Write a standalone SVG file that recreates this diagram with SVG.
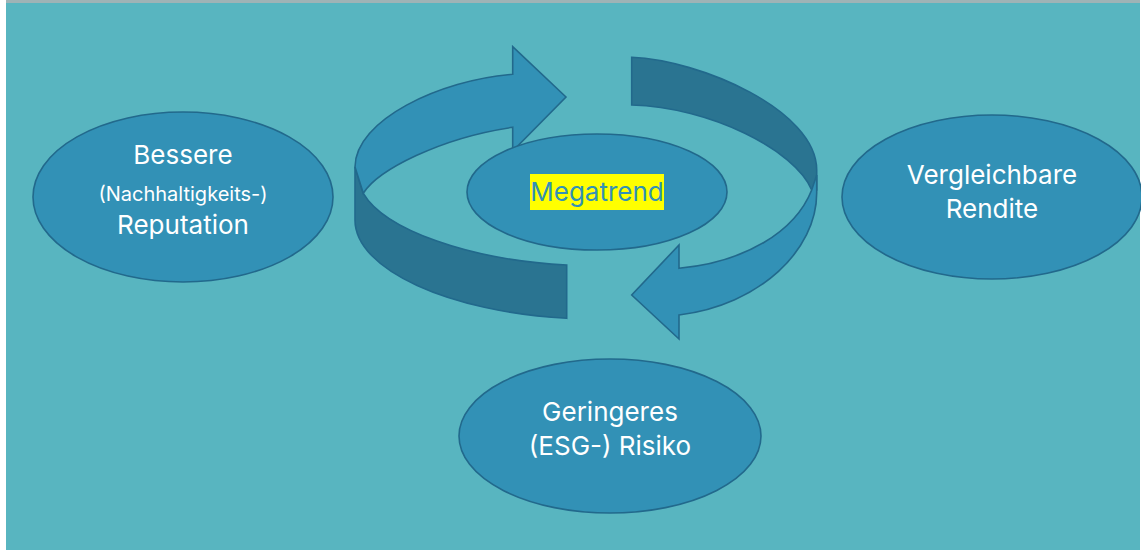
<svg xmlns="http://www.w3.org/2000/svg" width="1141" height="550" viewBox="0 0 1141 550">
<style>
.node{fill:#3291b6;stroke:#22698c;stroke-width:1.6}
.light{fill:#3291b6;stroke:#22698c;stroke-width:1.6;stroke-linejoin:miter}
.dark{fill:#2a7491;stroke:#22698c;stroke-width:1.6;stroke-linejoin:miter}
.lbl{font-family:Inter,"Liberation Sans",sans-serif;fill:#ffffff;text-anchor:middle}
</style>
<rect x="0" y="0" width="1141" height="550" fill="#ffffff"/>
<rect x="6" y="0" width="1134" height="3" fill="#9fb3b6"/>
<rect x="6" y="3" width="1134" height="547" fill="#58b5c0"/>
<g id="connectors">
<path class="dark" d="M355,167 L355,220 C355,270 450,312 566.7,318.3 L566.7,265 C470,260 385,230 363.3,193.3 Z"/>
<path class="dark" d="M631.7,57.3 C700,60 816.7,110 816.7,170 L816.7,190 L811.7,190 C795,150 710,107 631.7,105 Z"/>
<path class="light" d="M566,97 L512.7,46.7 L512.7,74.3 C440,80 355,120 355,167 L363.3,193.3 C378,170 440,138 512.7,127.3 L512.7,151 Z"/>
<path class="light" d="M816.7,175 L816.7,193 C816.7,250 760,305 679,315 L679,339 L631.7,295 L679,245 L679,268.3 C745,262 795,232 811.7,190 Z"/>
</g>
<g id="megatrend">
<ellipse class="node" cx="597" cy="192" rx="130" ry="58"/>
<rect x="530" y="174" width="134" height="36" fill="#ffff00"/>
<text x="597" y="201" font-family="Inter,'Liberation Sans',sans-serif" font-size="26" fill="#3291b6" text-anchor="middle">Megatrend</text>
</g>
<g id="reputation">
<ellipse class="node" cx="183" cy="197" rx="150" ry="85"/>
<text class="lbl" x="183" y="164" font-size="26">Bessere</text>
<text class="lbl" x="183" y="201" font-size="20">(Nachhaltigkeits-)</text>
<text class="lbl" x="183" y="234" font-size="26">Reputation</text>
</g>
<g id="rendite">
<ellipse class="node" cx="992" cy="197" rx="150" ry="82"/>
<text class="lbl" x="992" y="184" font-size="26">Vergleichbare</text>
<text class="lbl" x="992" y="218" font-size="26">Rendite</text>
</g>
<g id="risiko">
<ellipse class="node" cx="610" cy="436" rx="151" ry="77"/>
<text class="lbl" x="610" y="421" font-size="26">Geringeres</text>
<text class="lbl" x="610" y="455" font-size="26">(ESG-) Risiko</text>
</g>
</svg>
